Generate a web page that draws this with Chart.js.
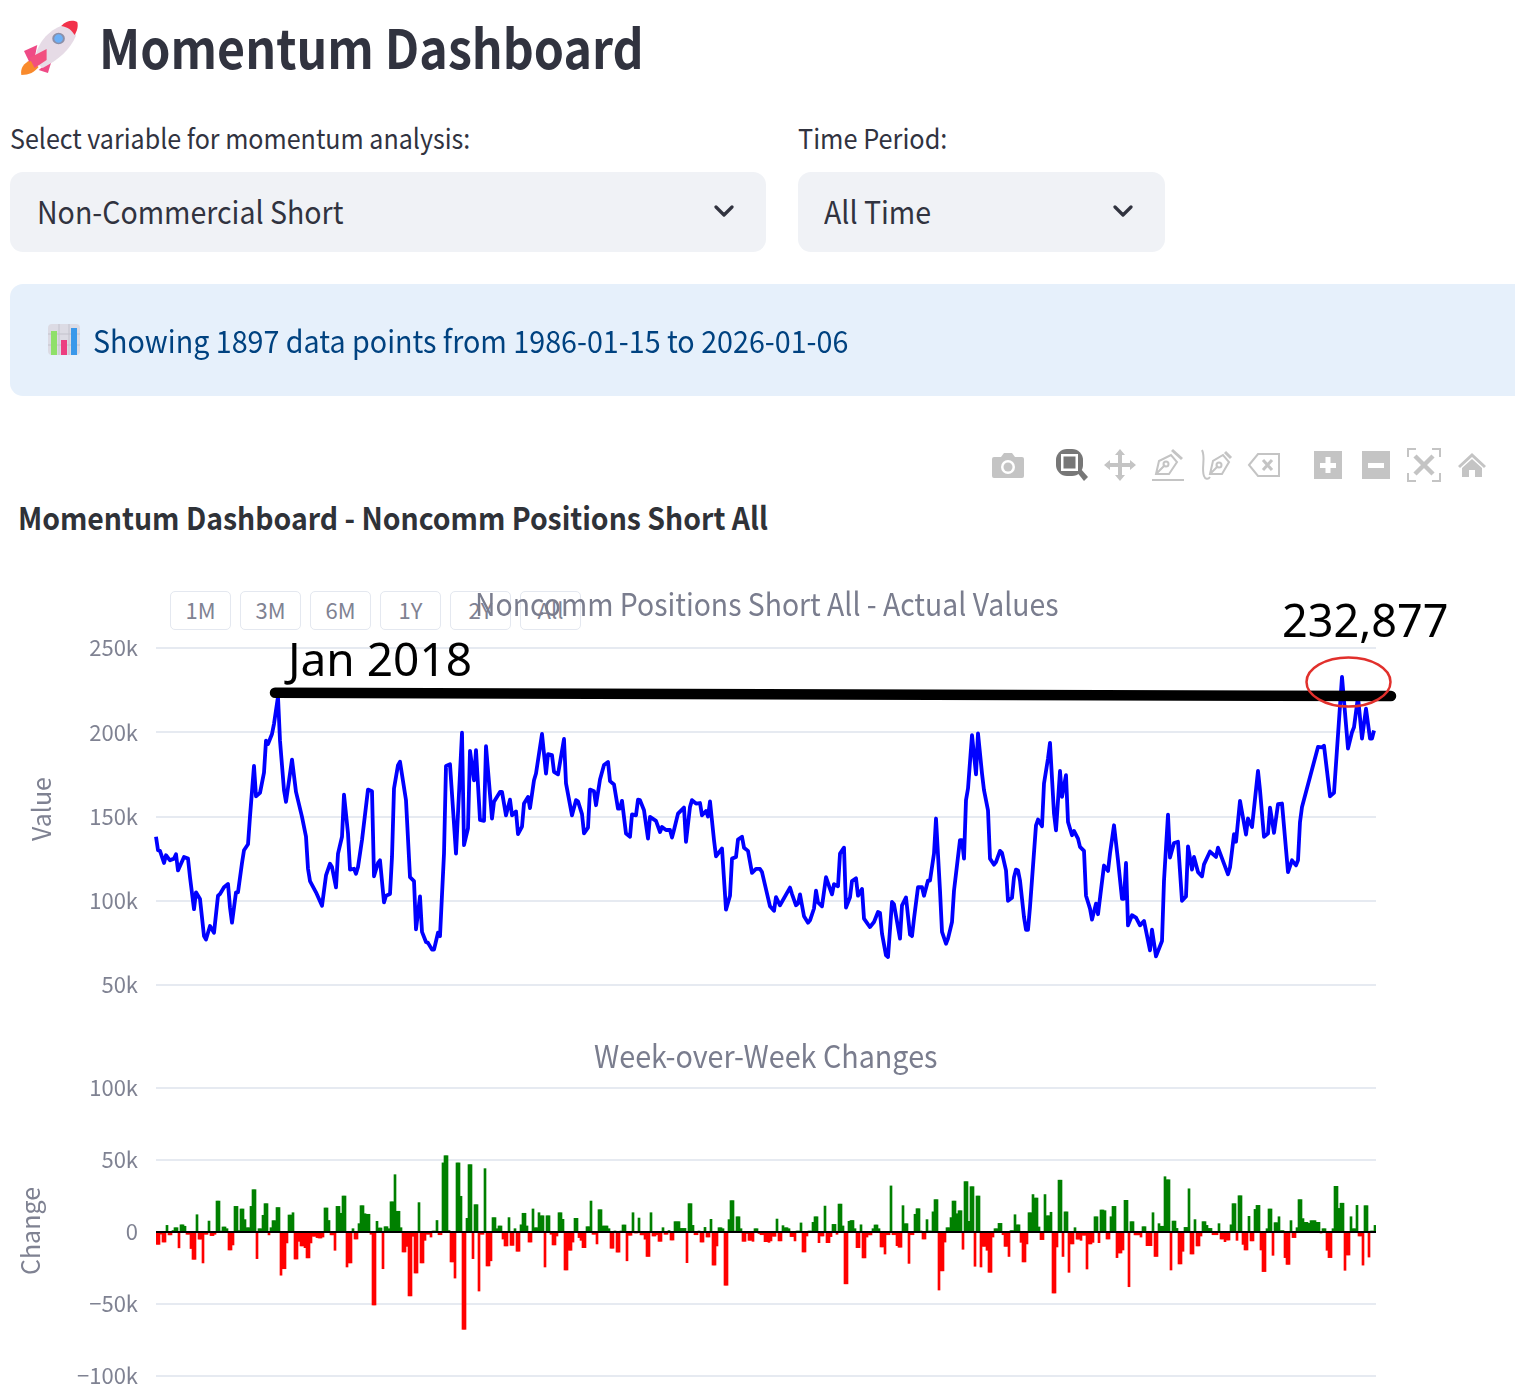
<!DOCTYPE html>
<html><head><meta charset="utf-8"><title>Momentum Dashboard</title>
<script src="https://cdn.jsdelivr.net/npm/chart.js@4"></script>
<style>
html,body{margin:0;padding:0;background:#fff;width:1515px;height:1395px;overflow:hidden}
body{font-family:"Noto Sans CJK SC","Noto Sans",sans-serif;color:#31333f;position:relative}
.a{position:absolute;white-space:nowrap;line-height:1;transform-origin:left center}
.sel{position:absolute;background:#f0f2f6;border-radius:13px;height:80px;top:172px}
.btn{position:absolute;top:591px;width:59px;height:37px;border:1.5px solid #e4e8f0;border-radius:5px;color:#7f8292;font-size:22px;line-height:35px;text-align:center;background:#fff}
.sub{color:#7a7d8e;font-size:31.5px}
.ya{position:absolute;color:#7f8292;font-size:25px;line-height:1;white-space:nowrap;transform:translate(-50%,-50%) rotate(-90deg);z-index:2}
canvas{position:absolute;left:0}
svg{position:absolute;left:0;top:0}
</style></head><body>
<svg width="1515" height="1395" style="z-index:0">
 <!-- rocket -->
 <g transform="translate(20 20) scale(1.33 1) translate(-17 -20)">
  <path d="M18 75 C17 68 20 63 25 60 L31 67 C28 72 24 75 18 75Z" fill="#f98a2c"/>
  <path d="M20 51 L30 45 L28 58 L24 62Z" fill="#ef4a86"/>
  <path d="M41 60 L38 73 L31 70Z" fill="#ef4a86"/>
  <path d="M28 62 C29 44 38 30 50 25 C56 27 59 31 59 36 C55 49 46 60 34 68Z" fill="#e6dbe6"/>
  <path d="M24 58 L37 49 L37 60 L28 68Z" fill="#f2507f"/>
  <path d="M48 26 C52 20 57 20 60 22 C61 26 60 31 58 35 C56 30 53 27 48 26Z" fill="#f2314a"/>
  <ellipse cx="46" cy="38.500" rx="4" ry="5" fill="#6db0f7" stroke="#8c8fa8" stroke-width="1.500"/>
 </g>
 <!-- toolbar -->
 <g fill="#c4c4c4" stroke="none">
  <path d="M994 457h7l3-4h8l3 4h7a2 2 0 0 1 2 2v17a2 2 0 0 1-2 2h-28a2 2 0 0 1-2-2v-17a2 2 0 0 1 2-2z"/>
  <circle cx="1008" cy="467" r="7" fill="#fff"/><circle cx="1008" cy="467" r="4.500"/>
  <g fill="#777"><rect x="1056" y="449" width="27" height="27" rx="11"/><path d="M1076 471l4-3 8 9-4 4z"/></g>
  <rect x="1061" y="454" width="17" height="17" fill="#fff"/><rect x="1063.500" y="456.500" width="12" height="12" fill="#777"/>
  <path d="M1120 449l5 6h-3v8h8v-3l6 5-6 5v-3h-8v8h3l-5 6-5-6h3v-8h-8v3l-6-5 6-5v3h8v-8h-3z"/>
  <g fill="none" stroke="#c4c4c4" stroke-width="2">
   <path d="M1152 480h32" />
   <path d="M1156 474l3-13 12-6 6 7-8 12z M1156 474l9-9"/><circle cx="1166" cy="464" r="2.500"/><path d="M1172 450l10 9" stroke-width="3"/>
   <path d="M1202 450c4 8-1 18 2 26 1 3 4 4 6 1"/><path d="M1210 474l3-13 10-6 6 7-7 12z M1210 474l8-8"/><circle cx="1219" cy="465" r="2.500"/><path d="M1225 452l6 6" stroke-width="3"/>
   <path d="M1249 465l9-11h21v22h-21z"/><path d="M1263 460l9 10M1272 460l-9 10" stroke-width="3"/>
  </g>
  <rect x="1314" y="451" width="28" height="28"/><rect x="1362" y="451" width="28" height="28"/>
  <g fill="#fff"><rect x="1320" y="463" width="16" height="5"/><rect x="1325.500" y="457" width="5" height="16"/><rect x="1368" y="463" width="16" height="5"/></g>
  <g fill="none" stroke="#c4c4c4" stroke-width="2"><path d="M1408 457v-8h8M1432 449h8v8M1440 473v8h-8M1416 481h-8v-8"/></g>
  <g fill="none" stroke="#c4c4c4" stroke-width="4.500"><path d="M1415 456l18 18M1433 456l-18 18"/></g>
  <path d="M1472 453l14 13-2 2-12-11-12 11-2-2z M1462 468l10-9 10 9v9h-7v-7h-6v7h-7z"/>
 </g>
</svg>
<div class="a" id="h1" style="left:99px;top:19px;font-size:54px;font-weight:600;transform:scaleX(.895)">Momentum Dashboard</div>
<div class="a" style="left:10px;top:124px;font-size:27.500px;transform:scaleX(.911)">Select variable for momentum analysis:</div>
<div class="a" style="left:798px;top:124px;font-size:27.500px;transform:scaleX(.92)">Time Period:</div>
<div class="sel" style="left:10px;width:756px"></div>
<div class="sel" style="left:798px;width:367px"></div>
<div class="a" style="left:37px;top:195px;font-size:31px;transform:scaleX(.92)">Non-Commercial Short</div>
<div class="a" style="left:824px;top:195px;font-size:31px;transform:scaleX(.92)">All Time</div>
<svg width="1515" height="1395" style="z-index:1">
 <path d="M716 207l8 8 8-8M1115 207l8 8 8-8" fill="none" stroke="#31333f" stroke-width="3.200" stroke-linecap="round" stroke-linejoin="round"/>
</svg>
<div class="a" style="left:10px;top:284px;width:1505px;height:112px;background:#e6f0fb;border-radius:13px 0 0 13px"></div>
<svg width="1515" height="1395" style="z-index:1">
 <rect x="48" y="324" width="32" height="31" rx="4" fill="#dcdbe4"/>
 <path d="M48 334h32M48 345h32M59 324v31M69 324v31" stroke="#c3c2cc" stroke-width="1"/>
 <rect x="51" y="331" width="6" height="24" fill="#8fe06a"/>
 <rect x="61" y="340" width="6" height="15" fill="#ec3e80"/>
 <rect x="71" y="328" width="6" height="27" fill="#3a98ea"/>
</svg>
<div class="a" style="left:93px;top:323.500px;font-size:31px;color:#004280;z-index:2;transform:scaleX(.925)">Showing 1897 data points from 1986-01-15 to 2026-01-06</div>
<div class="a" style="left:18px;top:500.500px;font-size:31px;font-weight:700;color:#2f3238;transform:scaleX(.916)">Momentum Dashboard - Noncomm Positions Short All</div>
<div class="btn" style="left:170px">1M</div><div class="btn" style="left:240px">3M</div><div class="btn" style="left:310px">6M</div>
<div class="btn" style="left:380px">1Y</div><div class="btn" style="left:450px">2Y</div><div class="btn" style="left:520px">All</div>
<div class="a sub" style="left:475px;top:586.500px;z-index:2;transform:scaleX(.9)">Noncomm Positions Short All - Actual Values</div>
<div class="a sub" style="left:594px;top:1038.500px;z-index:2;transform:scaleX(.912)">Week-over-Week Changes</div>
<div class="ya" style="left:40px;top:809px">Value</div>
<div class="ya" style="left:29px;top:1231px">Change</div>
<canvas id="c1" width="1515" height="370" style="top:640px;width:1515px;height:370px"></canvas>
<canvas id="c2" width="1515" height="315" style="top:1080px;width:1515px;height:315px"></canvas>
<svg width="1515" height="1395" style="z-index:3">
 <path d="M275 692.700L1391 696" stroke="#000" stroke-width="10.500" stroke-linecap="round"/>
 <ellipse cx="1348.500" cy="682" rx="42" ry="24.500" fill="none" stroke="#e1302c" stroke-width="2.500"/>
 <text x="288" y="676" font-family="Noto Sans" font-size="46" fill="#000">Jan 2018</text>
 <text x="1282" y="637" font-family="Noto Sans" font-size="45" fill="#000">232,877</text>
</svg>
<script>
// Non-commercial short positions, thousands of contracts: [position on the date axis, value]
const lineSamples=[[0,138],[1,130],[2,129.6],[4,122.4],[5,127],[7,124],[9,125],[10,127.6],[11,118],[14,126],[16,125],[17,114],[19,95],[20,105],[22,101],[24,79],[25,77],[27,85],[29,81],[31,103],[32,104],[34,108],[36,110],[37,96],[38,87],[40,105],[41,105],[43,122.4],[44,130],[46,133.5],[47,150],[49,180],[50,162],[52,164],[54,176],[55,195],[56,193],[58,199],[59,205],[61,221],[62,195],[64,165.6],[65,158.7],[68,183.8],[70,164.6],[73,149.8],[75,138],[76,119],[77,111.7],[80,105],[83,97],[85,115],[87,122],[88,120],[90,108],[91,128],[93,138],[94,163],[96,140],[97,118.5],[99,119],[100,116],[101,120],[103,136],[106,166],[108,165],[109,114.5],[111,122.4],[112,124],[114,99],[115,103],[117,104],[118,126],[119,166.6],[121,180.5],[122,182.5],[125,159.6],[127,114],[129,111.7],[130,83],[132,102.6],[133,81.5],[135,75.5],[136,75],[138,71],[139,71],[141,81],[142,79],[144,128],[145,180],[147,181],[150,128],[153,199.7],[154,133],[156,143],[157,189],[159,171.5],[160,189.4],[162,148],[164,147.4],[165,191.7],[168,148.8],[169,158.7],[172,164.6],[173,164.6],[175,150.7],[177,160],[178,150.7],[180,153],[181,139.5],[183,144],[184,157.7],[186,161.6],[187,155],[189,171.5],[190,175.5],[193,199],[195,175.5],[196,187],[198,186.4],[199,176.5],[201,175],[204,196],[205,169.6],[208,150.7],[210,159.7],[211,159],[213,151.4],[214,140],[216,143.4],[217,166],[219,165],[220,156.7],[222,172],[224,180.5],[226,182.4],[227,171],[229,169],[231,154.7],[232,154.7],[233,159.3],[235,139.9],[237,138],[238,151.3],[240,150.7],[241,160],[242,159.7],[244,153.7],[246,136.9],[247,149.8],[250,147.4],[252,140.8],[253,143.8],[255,142],[257,142],[258,137.5],[259,142],[261,151.7],[264,155.3],[265,135],[267,155.7],[268,159.7],[270,157.7],[272,158],[273,150.7],[275,153.3],[276,150],[277,158.9],[279,136],[280,126.4],[283,131],[285,94.7],[287,103],[288,125],[290,126],[291,136.3],[293,138],[294,131.5],[296,129.6],[298,116.5],[300,118.9],[302,118.9],[303,117],[307,96.7],[309,94],[310,102.2],[312,97.3],[317,107.8],[318,104],[320,97.3],[321,98.3],[322,103.8],[324,90.8],[326,87],[327,88.4],[329,95.4],[330,106],[331,99],[333,96.7],[335,114],[337,107],[338,103.8],[339,109.8],[341,108.6],[342,128],[344,131.5],[345,96],[347,102],[348,111.7],[350,113.3],[351,103],[353,107],[354,89.4],[356,86],[357,84.4],[359,87.4],[361,93.3],[362,92.7],[363,80.5],[365,67.6],[366,66.6],[368,99.3],[369,97.9],[372,77.5],[373,97.3],[375,102],[377,80],[378,79],[379,89.4],[381,108],[383,108],[384,103],[386,112],[387,112],[389,128],[390,148.8],[392,106],[393,81.5],[395,74.5],[396,77.5],[398,87.4],[399,106],[402,136],[403,136],[404,125],[405,159.7],[406,166.6],[408,198.3],[410,175],[411,199.3],[413,175.5],[414,165.6],[416,153.7],[417,125],[419,121.4],[420,123],[422,129.6],[423,128.4],[425,118],[426,100],[428,101.8],[429,114],[430,118.5],[431,118],[432,112],[434,90.3],[435,82.8],[436,82.8],[437,96.3],[440,144.8],[441,148.2],[443,144.2],[444,169.6],[446,184.4],[447,193.7],[449,151.7],[450,141.8],[452,177],[453,161.6],[455,174.5],[456,146.8],[458,138.9],[459,141.4],[461,136.9],[462,132],[464,129.6],[465,103],[467,95.3],[468,88.8],[470,98.3],[471,92],[474,120.9],[476,117.7],[477,128],[479,144.8],[481,124],[483,101.2],[484,101.2],[485,122.4],[486,85.4],[488,91.4],[490,90],[492,85.4],[494,88],[497,70.6],[498,82.8],[500,67],[503,76.1],[504,112],[506,151.1],[507,125.6],[509,134.3],[511,135],[513,100],[515,102.6],[516,132.3],[518,118.5],[519,126],[521,117],[523,114.5],[524,121.6],[527,129.2],[530,126],[531,131.5],[536,115.7],[537,119.7],[539,139.5],[540,135],[542,159.3],[545,139.3],[546,148.8],[548,143.8],[551,177],[552,165.6],[554,137.9],[556,139.9],[557,155.3],[559,140.3],[561,157.3],[563,157.7],[566,117],[568,124],[570,121],[571,124],[572,146.8],[573,155.7],[581,191.3],[583,191],[584,192],[587,162],[589,164],[593,232.877],[596,190.3],[598,200],[599,203],[601,221],[603,196.3],[605,214],[607,196.3],[608,196.3],[609,201]];
// Week-over-week change, thousands of contracts, one bar per slot of the date axis
const changeValues=[-8.6,-8.6,-1.5,-7,-7,4.6,-2,-2,1,3,3,-11,5,5,4,-1.6,-1.6,-11.5,-19,-19,12,-5,-5,-21.5,-1.6,-1.6,7.6,-2.5,-2.5,-1.6,21.5,21.5,0.7,3.5,3.5,2.3,-12.5,-12.5,-9,17.8,17.8,1,16,16,8.6,3,3,17.8,29.4,29.4,-18.5,2.3,2.3,11.6,19.7,19.7,-2,3,7.9,7.9,17,17,-30,-25.5,-25.5,-7.6,11.8,11.8,13.4,-18.8,-18.8,-6.5,-9.7,-9.7,-10.9,-18,-18,-7.6,-3,-3,-3.9,-4.2,-4.2,-3.5,16.7,16.7,8,-2,-2,-12.7,17.8,17.8,13,25,25,-24.3,-21.5,-21.5,2.3,-4.9,-4.9,5.8,18.3,18.3,12.7,12.3,12.3,-1.6,-50.7,-50.7,7.4,2.8,2.8,-25.5,3.7,3.7,2.3,21,21,39.8,14.4,14.4,3,-13.9,-13.9,-10,-44.4,-44.4,-3,-28.5,-28.5,20.4,-21.5,-21.5,-5.8,-1.6,-1.6,-3.5,0.7,0.7,8,-1.9,-1.9,48,53,53,1,-20.8,-20.8,-32,48,48,24.8,-67.6,-67.6,9.5,46.8,46.8,-18.5,19,19,-41,-1.6,-1.6,44,-23.6,-23.6,-20,10,10,2.3,4.2,4.2,-4.9,-9.7,-9.7,10,-9.3,-9.3,2.3,-13.4,-13.4,5,13,13,4.2,-7,-7,16,3,3,13.4,11.3,11.3,-24.3,11.3,11.3,-1.6,-9,-9,-2.8,13.4,13.4,8.8,-26.4,-26.4,-12.7,-12.7,-7,9.5,9.5,-3.9,-5.8,-10.9,-10.9,3.7,3.7,21.5,-1.6,-1.6,-8.3,15.5,15.5,4.2,4.2,4.2,2.3,-11.3,-11.3,0.7,-14,-14,0.5,4.9,4.9,-20,-2.3,-2.3,13.4,-0.7,-0.7,9.7,-2,-2,-5,-17,-17,13.4,-2.8,-2.8,-1.9,-6.5,-6.5,3,-1.6,-1.6,1,-5.6,-5.6,7.2,7.2,7.2,2.5,2.5,2.5,-21.3,19.7,19.7,4.6,-1.9,-1.9,0.5,-7,-7,3.2,-3.5,-3.5,8.8,-23,-23,-9.7,3,3,2.3,-37,-37,8.6,21.8,21.8,0.5,10.6,10.6,2.3,-6.5,-6.5,-1,-5.8,-5.8,-6.5,2.3,2.3,-1,-1.9,-1.9,-6.7,-6.7,-7.2,-6.2,-3,-3,9,-6.2,-6.2,4.4,3,3,2.3,-3.2,-3.2,-6.2,0.7,0.7,6.3,-13.9,-13.9,-2.8,0.7,0.7,6.7,10.6,10.6,-7.4,-2.8,-2.8,18,-7.4,-7.4,-3.2,5.3,5.3,-1.6,19.4,19.4,4.2,-36,-36,7.4,8,8,2.3,-10.9,-10.9,5,-18,-18,-3.5,-2,-2,2.3,4.9,4.9,2.3,-10.4,-10.4,-15.3,-1.9,-1.9,32,-1.9,-1.9,-9.5,-10.6,-10.6,18.3,5.8,5.8,-21.8,-1.9,-1.9,12.3,16.2,16.2,0.5,-4.9,-4.9,8.6,0.5,0.5,14,22.5,22.5,-40.3,-27,-27,-7,3,3,10,21.5,21.5,12.7,14.8,14.8,-12,35,35,7.4,31.5,31.5,-23.8,25,25,-24.3,-10,-10,-12.7,-28,-28,-3.5,2.3,2.3,6,6,-1.9,-10,-10,-17,1,1,12,5,5,-7.2,-20.8,-20.8,-8.3,13.4,13.4,26,23.6,23.6,3.5,-5.3,-5.3,26,11.3,11.3,13.7,-42.4,-42.4,-10.4,36,36,-17,14,14,-28,-8.3,-8.3,3,-5,-5,-5.8,-2.3,-2.3,-25.7,-8.3,-8.3,-7.2,10.6,10.6,-7.4,15.3,15.3,14.8,-4.9,-4.9,10.6,17.8,17.8,-17.8,-14.6,-14.6,-12.5,22,22,-38,7.2,7.2,-2,-2,-2,-3.5,3.7,3.7,-9.5,-9.5,-9.5,13.4,-17,-17,5.8,4,4,38.4,36.3,36.3,-26.4,7.6,7.6,2.5,-22.2,-22.2,-13.4,3.2,3.2,30,-15.3,-15.3,8.6,-9.7,-9.7,-2.8,7.2,7.2,4.6,2.5,2.5,-1.9,-1.9,-1.9,5.8,-4.9,-4.9,-6.7,-5.6,-5.6,5,19.7,19.7,-5.8,25.2,25.2,-8.6,-12.5,-12.5,10.9,-6.2,-6.2,15.7,18.5,18.5,-12.5,-27.5,-27.5,2.3,16,16,-16.2,6.5,6.5,10.6,1,1,-17.8,-22.5,-22.5,7.9,-3.9,-3.9,3,22.5,22.5,9.3,6.7,6.7,6,7.9,7.9,7.9,6.7,6.7,-0.7,2.3,2.3,-12.7,-17.8,-17.8,2.3,31.7,31.7,16.4,20,20,-26.6,-16,-16,10.6,2.3,2.3,18.5,-2.8,-2.8,-23,18.3,18.3,-17.4,0.7,0.7,4.6];
const valueTicks=[50,100,150,200,250];
const changeTicks=[-100,-50,0,50,100];
const lineColor='#0000ff',gainColor='#008000',lossColor='#ff0000',gridColor='#e6eaf1',tickColor='#7f8292';
const family='"Noto Sans CJK SC","Noto Sans",sans-serif';
const fmt=v=>(v<0?'\u2212'+(-v):String(v))+(v===0?'':'k');
function yAxis(ticks){return {
  min:ticks[0],max:ticks[ticks.length-1],
  afterBuildTicks:s=>{s.ticks=ticks.map(v=>({value:v}));},
  afterFit:s=>{s.width=156;s.paddingTop=0;s.paddingBottom=0;},
  grid:{color:gridColor,lineWidth:2,drawTicks:false},border:{display:false},
  ticks:{color:tickColor,font:{family,size:22},padding:18,callback:fmt,autoSkip:false}
};}
new Chart(document.getElementById('c1'),{
  type:'line',
  data:{datasets:[{data:lineSamples.map(([x,y])=>({x,y})),borderColor:lineColor,borderWidth:3.8,pointRadius:0,tension:0,borderJoinStyle:'round',clip:false}]},
  options:{responsive:false,animation:false,parsing:false,normalized:true,
    layout:{padding:{left:0,right:139,top:8,bottom:25}},
    plugins:{legend:{display:false},tooltip:{enabled:false}},
    scales:{x:{type:'linear',min:0,max:610,display:false},y:yAxis(valueTicks)}}
});
const zeroLine={id:'zeroLine',afterDatasetsDraw(c){const y=c.scales.y.getPixelForValue(0),a=c.chartArea,g=c.ctx;g.save();g.strokeStyle='#000';g.lineWidth=2;g.beginPath();g.moveTo(a.left,y);g.lineTo(a.right,y);g.stroke();g.restore();}};
new Chart(document.getElementById('c2'),{
  type:'bar',plugins:[zeroLine],
  data:{labels:changeValues.map((_,i)=>i),datasets:[{data:changeValues,backgroundColor:changeValues.map(v=>v>=0?gainColor:lossColor),borderWidth:0,barPercentage:1,categoryPercentage:1}]},
  options:{responsive:false,animation:false,
    layout:{padding:{left:0,right:139,top:8,bottom:19}},
    plugins:{legend:{display:false},tooltip:{enabled:false}},
    scales:{x:{display:false},y:yAxis(changeTicks)}}
});
</script>
</body></html>
